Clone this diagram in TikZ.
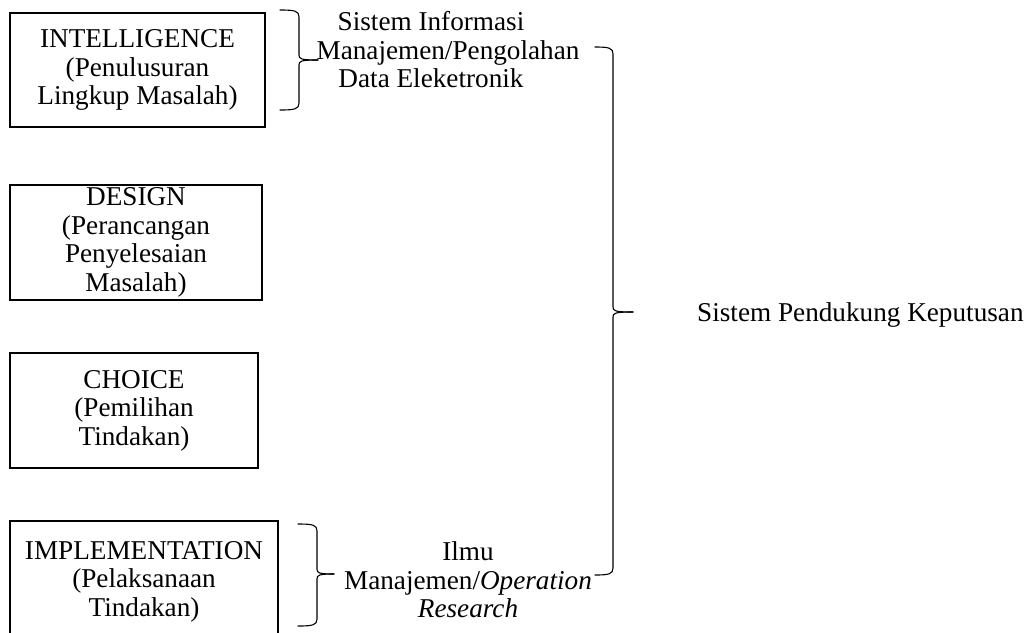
\documentclass[tikz,border=0pt]{standalone}
\usepackage{fontspec}
\setmainfont{Liberation Serif}
\begin{document}
\begin{tikzpicture}[x=1pt,y=-1pt,
  txt/.style={font=\fontsize{27.2}{28.5}\selectfont, align=center, inner sep=0pt},
  phase/.style={txt, draw, line width=2pt, minimum width=#1},
  brace/.style={line width=1.1pt, line cap=round}]
\useasboundingbox (0,0) rectangle (1032,632);
\clip (0,0) rectangle (1032,632);

% decision phases
\node[phase=255, minimum height=114] (intel) at (137.5,70)
  {INTELLIGENCE\\(Penulusuran\\Lingkup Masalah)};
\node[phase=252, minimum height=115] (design) at (136,242.5)
  {DESIGN\\(Perancangan\\Penyelesaian\\Masalah)};
\node[phase=248, minimum height=115] (choice) at (134,410.5)
  {CHOICE\\(Pemilihan\\Tindakan)};
\node[phase=268, minimum height=121] (impl) at (144,581.5)
  {IMPLEMENTATION\\(Pelaksanaan\\Tindakan)};

% supporting systems
\node[txt] (sim) at (431,50)
  {Sistem Informasi\\\hspace*{34pt}Manajemen/Pengolahan\\Data Eleketronik};
\node[txt] (ilmu) at (468,580)
  {Ilmu\\Manajemen/\textit{Operation}\\\textit{Research}};
\node[txt, anchor=west] (spk) at (697,315) {Sistem Pendukung Keputusan};

% right-facing brace: end x, spine x, tip x, top y, tip y, bottom y
\newcommand\sidebrace[6]{%
  \draw[brace] (#1,#4) .. controls (#2-4,#4) and (#2,#4+1) .. (#2,#4+7)
    -- (#2,#5-5) .. controls (#2,#5-1) and (#2+2,#5) .. (#3,#5);
  \draw[brace] (#3,#5) .. controls (#2+2,#5) and (#2,#5+1) .. (#2,#5+5)
    -- (#2,#6-7) .. controls (#2,#6-1) and (#2-4,#6) .. (#1,#6);}

\sidebrace{280}{299}{318}{10}{60}{110}
\sidebrace{298}{317}{334}{524}{574}{626}
\sidebrace{595}{613}{633}{47}{312}{575}
\end{tikzpicture}
\end{document}
